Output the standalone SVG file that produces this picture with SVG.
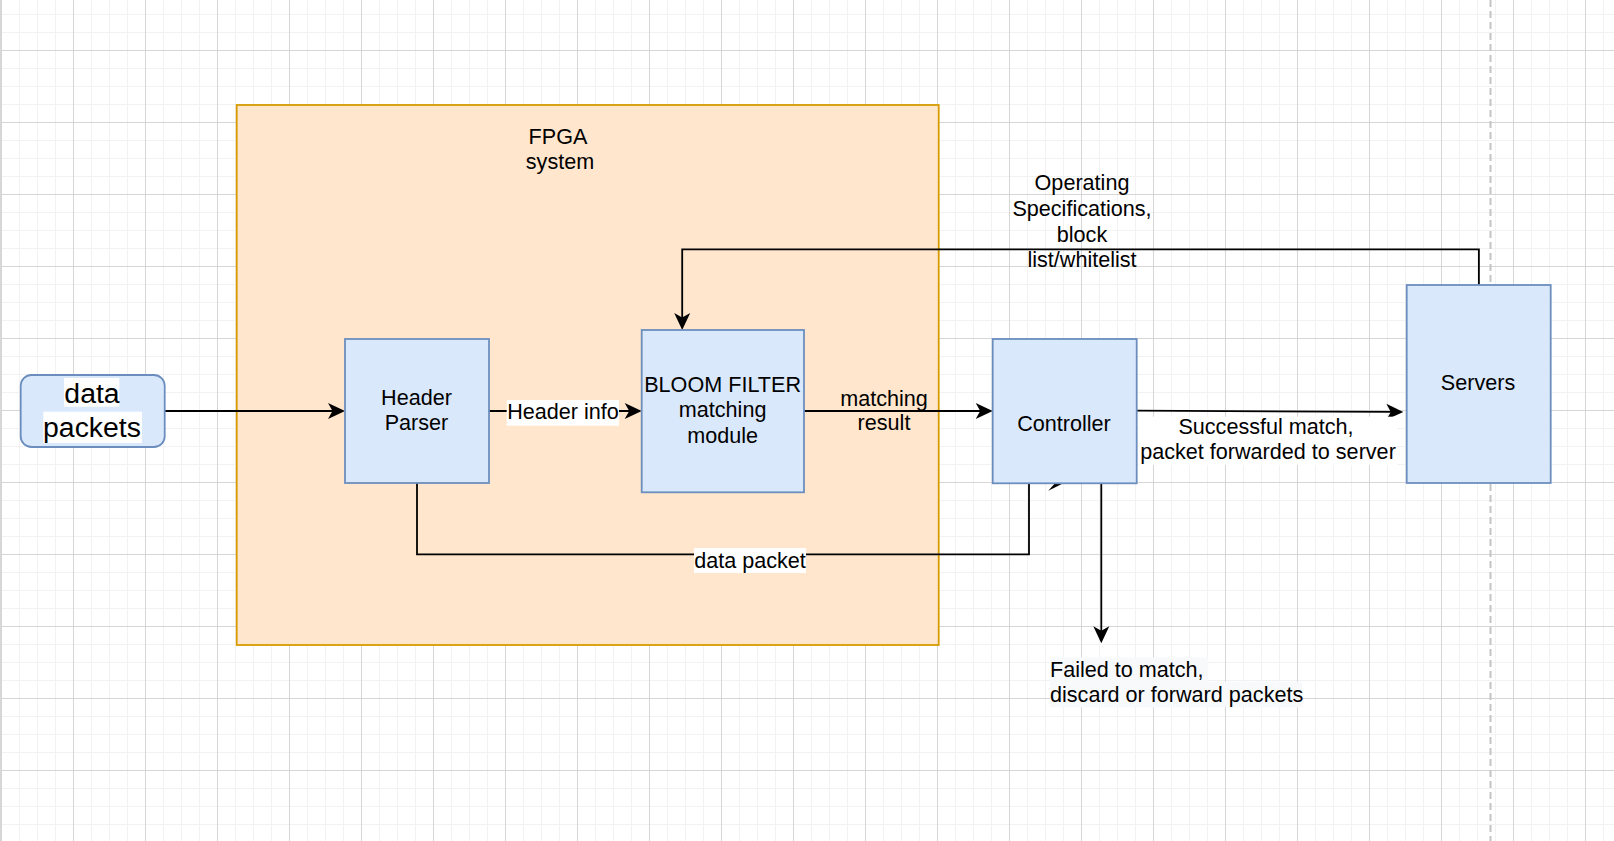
<svg xmlns="http://www.w3.org/2000/svg" width="1614" height="841" viewBox="0 0 1614 841">
<defs>
<pattern id="grid" patternUnits="userSpaceOnUse" x="1" y="-22" width="72" height="72">
<path d="M18.5,0V72M36.5,0V72M54.5,0V72M0,18.5H72M0,36.5H72M0,54.5H72" stroke="#f2f2f2" stroke-width="1" fill="none"/>
<path d="M0.5,0V72M0,0.5H72" stroke="#d6d6d6" stroke-width="1" fill="none"/>
</pattern>
<marker id="arr" markerUnits="userSpaceOnUse" markerWidth="20" markerHeight="20" viewBox="-8 -10 20 20" refX="0" refY="0" orient="auto">
<path d="M10,0 L-7,-8 L-2.5,0 L-7,8 Z" fill="#000"/>
</marker>
</defs>
<style>
.t{font-family:"Liberation Sans",Arial,Helvetica,sans-serif;font-size:21.6px;fill:#000;text-anchor:middle}
.tl{text-anchor:start}
.big{font-size:28.4px}
.node{fill:#dae8fc;stroke:#6c8ebf;stroke-width:1.8}
.edge{fill:none;stroke:#000;stroke-width:1.8}
.ea{marker-end:url(#arr)}
.lbg{fill:#fff}
.fbg{fill:#f8f9fa}
</style>
<rect x="0" y="0" width="1614" height="841" fill="#fff"/>
<rect x="0" y="0" width="1614" height="841" fill="url(#grid)"/>
<rect x="0" y="0" width="2" height="841" fill="#d6d6d6"/>
<line x1="1490.5" y1="0" x2="1490.5" y2="841" stroke="#c4c4c4" stroke-width="2" stroke-dasharray="7 4"/>

<g id="fpga">
<rect x="236.7" y="105" width="702" height="540" fill="#ffe6cc" stroke="#d79b00" stroke-width="1.8"/>
<text class="t" x="558" y="144.3">FPGA</text>
<text class="t" x="560" y="169.3">system</text>
</g>

<g id="connectors">
<path class="edge ea" d="M164.7,411 H335"/>
<path class="edge ea" d="M489,411 H631.7"/>
<path class="edge ea" d="M804,411 H982.7"/>
<path class="edge ea" d="M1478.9,285 V249.3 H682.2 V320"/>
<path class="edge ea" d="M1136.7,410.6 L1393.3,411.9"/>
<path class="edge" d="M417,483 V554.3 H1029 V483"/>
<polygon points="1048.3,490.7 1055,483.3 1063.3,483.3" fill="#000"/>
<path class="edge ea" d="M1101.3,483 V633.3"/>

<rect class="lbg" x="506.7" y="400" width="112.3" height="25.7"/>
<text class="t" x="563" y="419.3">Header info</text>

<text class="t" x="884" y="406">matching</text>
<text class="t" x="884" y="430">result</text>

<text class="t" x="1082" y="190">Operating</text>
<text class="t" x="1082" y="216">Specifications,</text>
<text class="t" x="1082" y="241.5">block</text>
<text class="t" x="1082" y="267">list/whitelist</text>

<rect class="lbg" x="1139" y="416.7" width="258" height="48.3"/>
<text class="t" x="1266" y="434">Successful match,</text>
<text class="t" x="1268" y="459">packet forwarded to server</text>

<rect class="lbg" x="694" y="548" width="112" height="25"/>
<text class="t" x="750" y="567.7">data packet</text>
</g>

<g id="data-packets">
<rect class="node" x="20.7" y="375" width="144" height="72" rx="10.8" ry="10.8"/>
<rect class="lbg" x="64" y="378" width="55.3" height="28.7"/>
<rect class="lbg" x="43.3" y="411.7" width="98.7" height="31.3"/>
<text class="t big" x="92" y="403.3">data</text>
<text class="t big" x="92" y="436.7">packets</text>
</g>

<g id="header-parser">
<rect class="node" x="345" y="339" width="144" height="144"/>
<text class="t" x="416.5" y="405">Header</text>
<text class="t" x="416.5" y="430">Parser</text>
</g>

<g id="bloom-filter">
<rect class="node" x="641.7" y="330" width="162.3" height="162.3"/>
<text class="t" x="722.6" y="391.6">BLOOM FILTER</text>
<text class="t" x="722.6" y="417">matching</text>
<text class="t" x="722.6" y="442.5">module</text>
</g>

<g id="controller">
<rect class="node" x="992.7" y="339" width="144" height="144.3"/>
<text class="t" x="1064" y="431">Controller</text>
</g>

<g id="servers">
<rect class="node" x="1406.7" y="285" width="144" height="198"/>
<text class="t" x="1478" y="390">Servers</text>
</g>

<g id="failed-label">
<rect class="fbg" x="1050" y="657.3" width="158.3" height="24.6"/>
<rect class="fbg" x="1050" y="681.7" width="252.3" height="25.6"/>
<text class="t tl" x="1050" y="676.7">Failed to match,</text>
<text class="t tl" x="1050" y="701.7">discard or forward packets</text>
</g>
</svg>
